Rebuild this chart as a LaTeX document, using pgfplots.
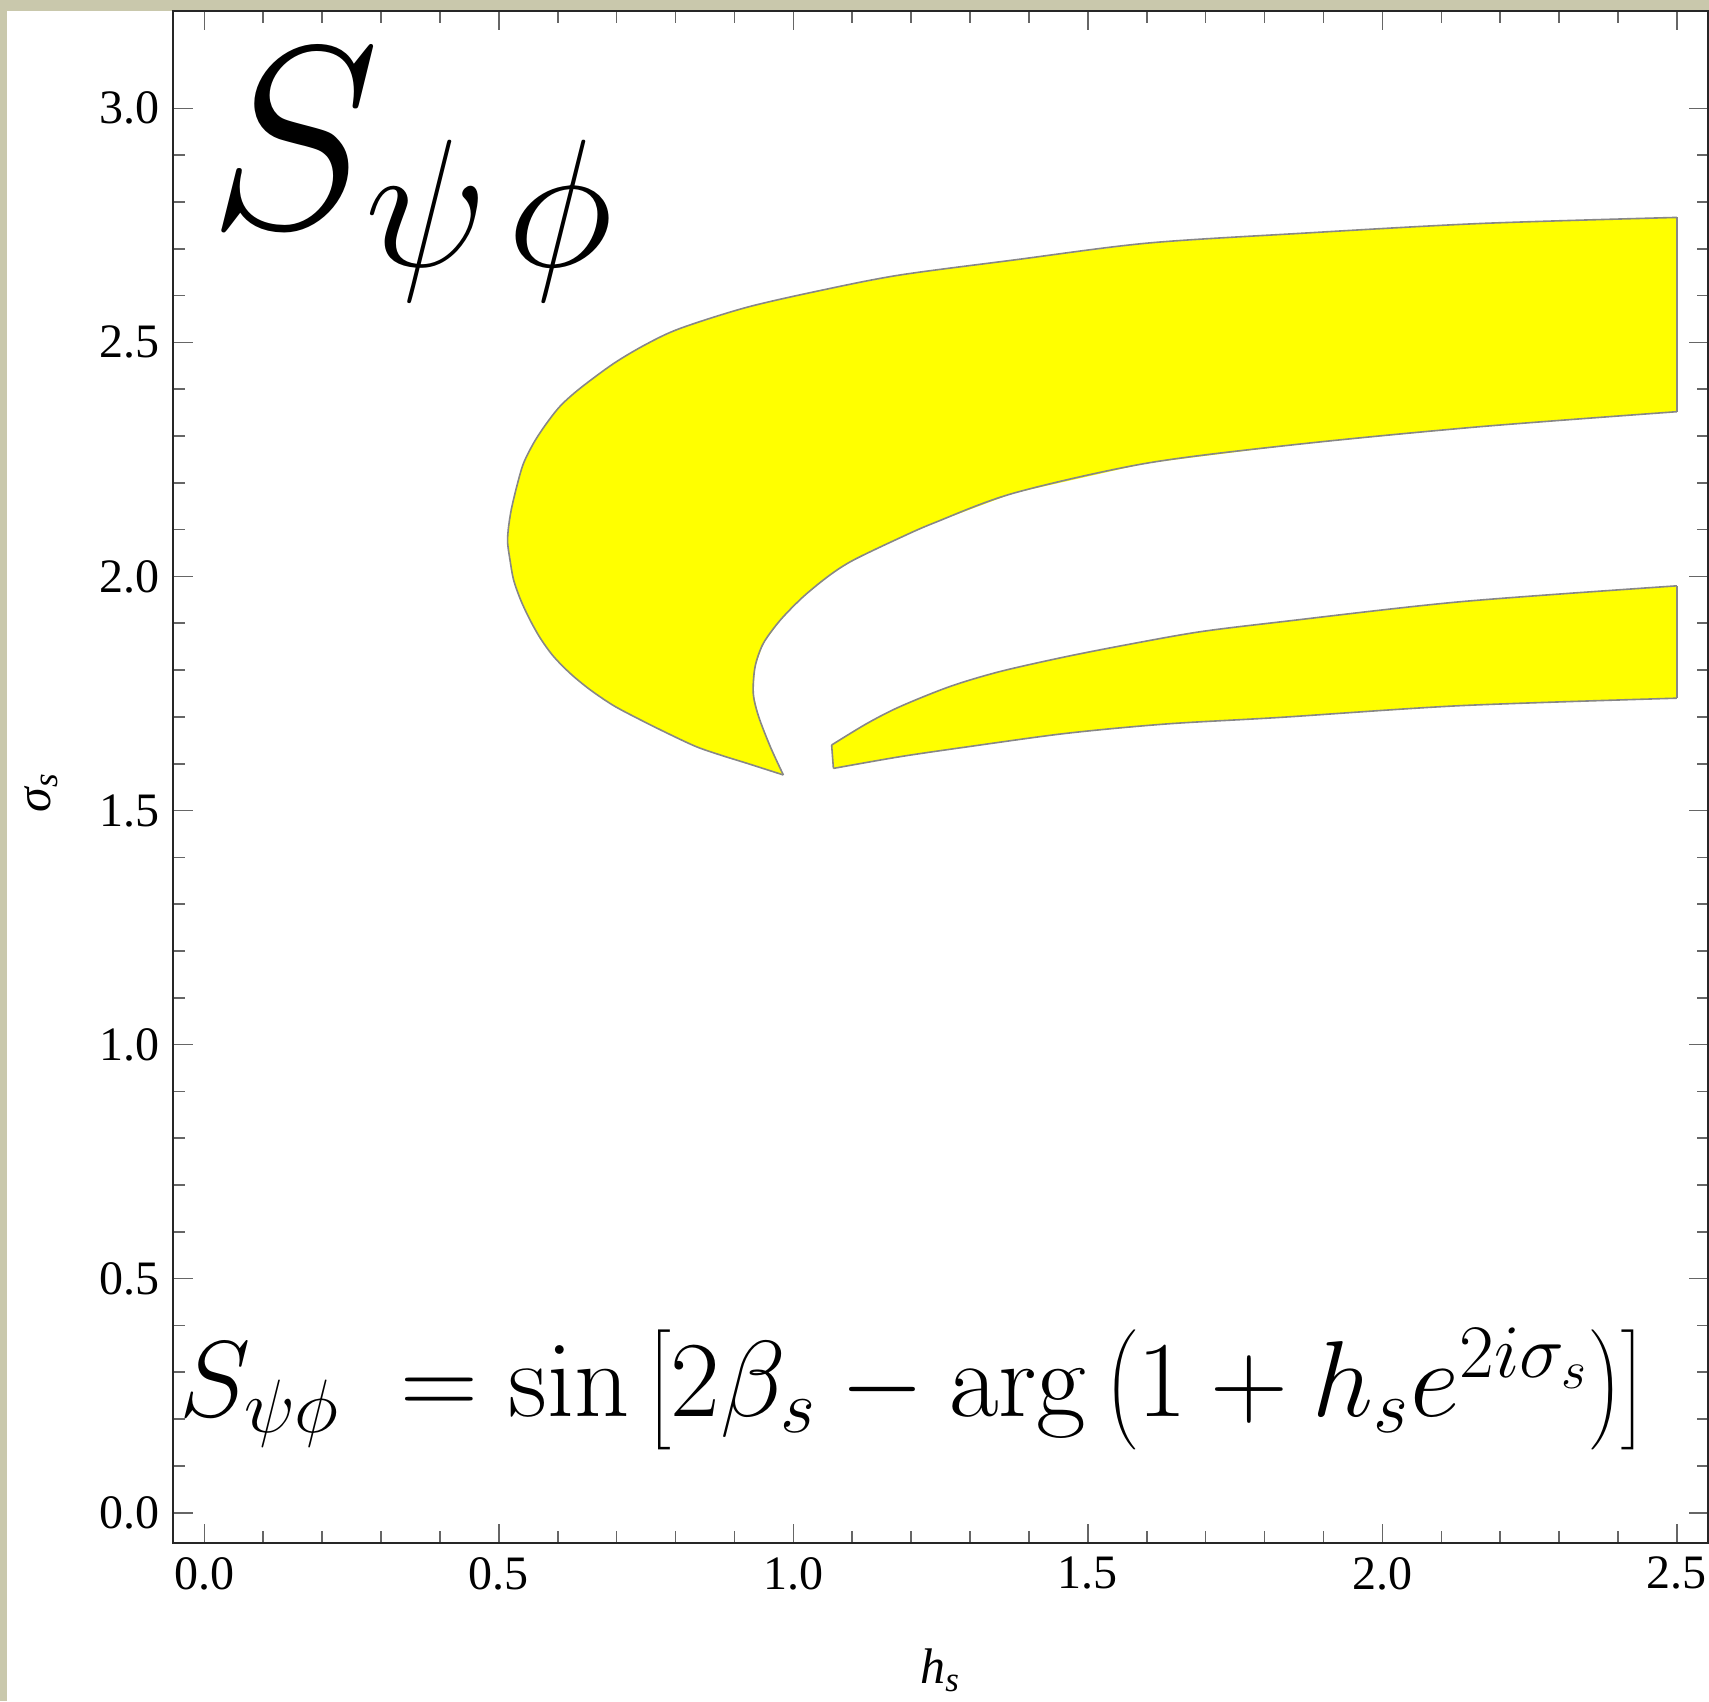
\RequirePackage{fix-cm}
\documentclass[border=0pt]{standalone}
\usepackage[no-math]{fontspec}
\setmainfont{Liberation Serif}
\usepackage{pgfplots}
\pgfplotsset{compat=1.18}
\definecolor{khaki}{RGB}{201,200,172}
\definecolor{edgegray}{RGB}{135,135,135}
\definecolor{yel}{RGB}{255,255,0}
\begin{document}
\begin{tikzpicture}
\path[use as bounding box] (0,0) rectangle (427.25pt,425.25pt);
\fill[khaki] (0,0) rectangle (427.25pt,425.25pt);
\fill[white] (1.75pt,0) rectangle (427.25pt,422.5pt);
\begin{axis}[
  at={(43.33pt,39.5pt)}, anchor=south west,
  scale only axis, width=383.7pt, height=383pt,
  xmin=-0.0526, xmax=2.553, ymin=-0.0647, ymax=3.208,
  xtick={0,0.5,1,1.5,2,2.5}, ytick={0,0.5,1,1.5,2,2.5,3},
  minor x tick num=4, minor y tick num=4,
  tick align=inside, major tick length=4.8pt, minor tick length=2.9pt,
  tick style={black!60, line width=0.4pt},
  axis line style={black!85, line width=0.5pt},
  ticklabel style={font=\fontsize{12}{13}\selectfont},
  /pgf/number format/assume math mode=true,
  /pgf/number format/fixed, /pgf/number format/fixed zerofill,
  /pgf/number format/precision=1,
  xlabel={\itshape h\textsubscript{s}},
  ylabel={\itshape σ\textsubscript{s}},
  label style={font=\fontsize{12.5}{13}\selectfont},
  xlabel style={at={(axis description cs:0.5,0)}, anchor=north, inner sep=0pt, yshift=-26.25pt},
  ylabel style={at={(axis description cs:-0.086,0.49)}, anchor=center, inner sep=0pt},
  every axis plot/.append style={line width=0.4pt},
]
% fills
\addplot[fill=yel, draw=none] coordinates {
(0.983,1.576) (0.921,1.601) (0.880,1.617) (0.836,1.636) (0.788,1.664) (0.740,1.694)
(0.695,1.724) (0.655,1.758) (0.622,1.792) (0.593,1.829) (0.571,1.867) (0.553,1.907)
(0.537,1.950) (0.525,1.993) (0.519,2.035) (0.515,2.071) (0.516,2.100) (0.521,2.142)
(0.531,2.195) (0.542,2.242) (0.560,2.287) (0.581,2.327) (0.605,2.365) (0.638,2.402)
(0.695,2.455) (0.750,2.496) (0.808,2.530) (0.921,2.575) (1.050,2.612) (1.181,2.644)
(1.374,2.676) (1.600,2.712) (1.861,2.733) (2.166,2.754) (2.500,2.767)
(2.500,2.352) (2.166,2.320) (1.861,2.283) (1.600,2.242) (1.374,2.178) (1.240,2.115)
(1.180,2.082) (1.102,2.035) (1.062,2.003) (1.017,1.957) (0.978,1.907) (0.949,1.857)
(0.935,1.807) (0.932,1.750) (0.941,1.701) (0.961,1.636)
} -- cycle;
\addplot[fill=yel, draw=none] coordinates {
(1.065,1.640) (1.125,1.686) (1.181,1.722) (1.266,1.765) (1.351,1.797) (1.464,1.829)
(1.578,1.857) (1.691,1.882) (1.827,1.903) (2.132,1.946) (2.500,1.980)
(2.500,1.740) (2.132,1.724) (1.827,1.699) (1.634,1.685) (1.464,1.665) (1.295,1.636)
(1.181,1.615) (1.068,1.590)
} -- cycle;
% outlines
\addplot[draw=edgegray, smooth, tension=0.5] coordinates {
(0.983,1.576) (0.921,1.601) (0.880,1.617) (0.836,1.636) (0.788,1.664) (0.740,1.694)
(0.695,1.724) (0.655,1.758) (0.622,1.792) (0.593,1.829) (0.571,1.867) (0.553,1.907)
(0.537,1.950) (0.525,1.993) (0.519,2.035) (0.515,2.071) (0.516,2.100) (0.521,2.142)
(0.531,2.195) (0.542,2.242) (0.560,2.287) (0.581,2.327) (0.605,2.365) (0.638,2.402)
(0.695,2.455) (0.750,2.496) (0.808,2.530) (0.921,2.575) (1.050,2.612) (1.181,2.644)
(1.374,2.676) (1.600,2.712) (1.861,2.733) (2.166,2.754) (2.500,2.767)
};
\addplot[draw=edgegray, smooth, tension=0.5] coordinates {
(0.983,1.576) (0.961,1.636) (0.941,1.701) (0.932,1.750) (0.935,1.807) (0.949,1.857)
(0.978,1.907) (1.017,1.957) (1.062,2.003) (1.102,2.035) (1.180,2.082) (1.240,2.115)
(1.374,2.178) (1.600,2.242) (1.861,2.283) (2.166,2.320) (2.500,2.352)
};
\addplot[draw=edgegray] coordinates {(2.500,2.352) (2.500,2.767)};
\addplot[draw=edgegray, smooth, tension=0.5] coordinates {
(1.065,1.640) (1.125,1.686) (1.181,1.722) (1.266,1.765) (1.351,1.797) (1.464,1.829)
(1.578,1.857) (1.691,1.882) (1.827,1.903) (2.132,1.946) (2.500,1.980)
};
\addplot[draw=edgegray, smooth, tension=0.5] coordinates {
(1.068,1.590) (1.181,1.615) (1.295,1.636) (1.464,1.665) (1.634,1.685) (1.827,1.699)
(2.132,1.724) (2.500,1.740)
};
\addplot[draw=edgegray] coordinates {(1.065,1.640) (1.068,1.590)};
\addplot[draw=edgegray] coordinates {(2.500,1.980) (2.500,1.740)};
\node[anchor=base west, inner sep=0pt, font=\fontsize{65}{70}\selectfont] at (axis cs:0.0065,2.745) {$S_{\psi\mkern2mu\phi}$};
\node[anchor=base west, inner sep=0pt, font=\fontsize{27}{30}\selectfont] at (axis cs:-0.044,0.205) {$S_{\psi\phi}\;= \sin\left[2\beta_s - \arg\left(1+h_s e^{2i\sigma_s}\right)\right]$};
\end{axis}
\end{tikzpicture}
\end{document}
